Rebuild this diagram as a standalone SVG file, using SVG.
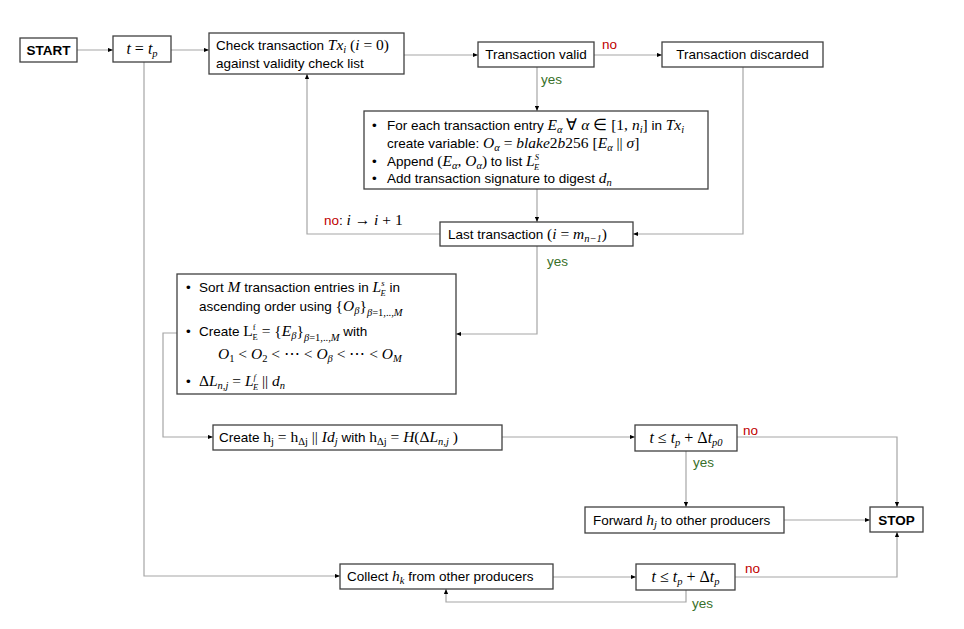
<svg xmlns="http://www.w3.org/2000/svg" width="964" height="629" viewBox="0 0 964 629">
<defs>
<marker id="ah" viewBox="0 0 6 6" refX="6" refY="3" markerWidth="5" markerHeight="5" markerUnits="userSpaceOnUse" orient="auto"><path d="M0,0.5 L6,3 L0,5.5 Z" fill="#000"/></marker>
</defs>
<style>
.box{fill:#fff;stroke:#404040;stroke-width:1.3}
.c{fill:none;stroke:#a6a6a6;stroke-width:1.2;marker-end:url(#ah)}
text{font-family:"Liberation Sans",Arial,sans-serif;font-size:13.5px;fill:#000}
.b{font-weight:bold}
.m{font-family:"Liberation Serif","Times New Roman",serif;font-size:15.5px}
.i{font-style:italic}
.s{font-size:10.5px}
.ss{font-size:8.5px}
.big{font-size:16px}
.no{fill:#c00000}
.yes{fill:#38702a}
</style>
<rect width="964" height="629" fill="#fff"/>

<g id="connectors">
<path class="c" d="M77,50 H113"/>
<path class="c" d="M171,50 H209"/>
<path class="c" d="M404,55 H478"/>
<path class="c" d="M594,55 H662"/>
<path class="c" d="M537,67 V111"/>
<path class="c" d="M537,189 V222"/>
<path class="c" d="M743,67 V234 H633"/>
<path class="c" d="M440,234 H307 V74"/>
<path class="c" d="M537,246 V334 H456"/>
<path class="c" d="M177,333 H163 V437 H213"/>
<path class="c" d="M502,437 H635"/>
<path class="c" d="M686,451 V507"/>
<path class="c" d="M737,437 H897 V507"/>
<path class="c" d="M784,520 H870"/>
<path class="c" d="M144,62 V576 H340"/>
<path class="c" d="M553,577 H636"/>
<path class="c" d="M735,577 H897 V532"/>
<path class="c" d="M686,590 V602 H446 V589"/>
<text x="602" y="49" class="no">no</text>
<text x="541" y="84" class="yes">yes</text>
<text x="324" y="225"><tspan class="no">no</tspan>: <tspan class="m"><tspan class="i">i</tspan> → <tspan class="i">i</tspan> + 1</tspan></text>
<text x="547" y="266" class="yes">yes</text>
<text x="743" y="435" class="no">no</text>
<text x="693" y="467" class="yes">yes</text>
<text x="745" y="573" class="no">no</text>
<text x="692" y="608" class="yes">yes</text>
</g>

<g id="start">
<rect class="box" x="20" y="38" width="57" height="24"/>
<text x="48.5" y="55" text-anchor="middle" class="b">START</text>
</g>

<g id="set-time">
<rect class="box" x="113" y="36" width="58" height="26"/>
<text x="142" y="54" text-anchor="middle" class="m big"><tspan class="i">t</tspan> = <tspan class="i">t</tspan><tspan class="i s" dy="3">p</tspan></text>
</g>

<g id="check">
<rect class="box" x="209" y="33" width="195" height="41"/>
<text x="216" y="50">Check transaction <tspan class="m i">Tx</tspan><tspan class="m i s" dy="3">i</tspan><tspan class="m" dy="-3"> (<tspan class="i">i</tspan> = 0)</tspan></text>
<text x="216" y="68">against validity check list</text>
</g>

<g id="valid">
<rect class="box" x="478" y="42" width="116" height="25"/>
<text x="536" y="59" text-anchor="middle">Transaction valid</text>
</g>

<g id="discarded">
<rect class="box" x="662" y="42" width="161" height="25"/>
<text x="742.5" y="59" text-anchor="middle">Transaction discarded</text>
</g>

<g id="process-entries">
<rect class="box" x="364" y="111" width="344" height="78"/>
<text x="372" y="130">•</text>
<text x="372" y="166">•</text>
<text x="372" y="183">•</text>
<text x="387" y="130">For each transaction entry <tspan class="m i">E</tspan><tspan class="m i s" dy="3">α</tspan><tspan class="m" dy="-3"> ∀ <tspan class="i">α</tspan> ∈ [1, <tspan class="i">n</tspan></tspan><tspan class="m i s" dy="3">i</tspan><tspan class="m" dy="-3">]</tspan> in <tspan class="m i">Tx</tspan><tspan class="m i s" dy="3">i</tspan></text>
<text x="387" y="148">create variable: <tspan class="m i">O</tspan><tspan class="m i s" dy="3">α</tspan><tspan class="m" dy="-3"> = <tspan class="i">blake</tspan>2<tspan class="i">b</tspan>256 [<tspan class="i">E</tspan></tspan><tspan class="m i s" dy="3">α</tspan><tspan class="m" dy="-3"> || <tspan class="i">σ</tspan>]</tspan></text>
<text x="387" y="166">Append <tspan class="m">(<tspan class="i">E</tspan></tspan><tspan class="m i s" dy="3">α</tspan><tspan class="m" dy="-3">, <tspan class="i">O</tspan></tspan><tspan class="m i s" dy="3">α</tspan><tspan class="m" dy="-3">)</tspan> to list <tspan class="m i">L</tspan><tspan class="m i ss" dy="-6">S</tspan><tspan class="m i ss" dx="-5" dy="10">E</tspan></text>
<text x="387" y="183">Add transaction signature to digest <tspan class="m i">d</tspan><tspan class="m i s" dy="3">n</tspan></text>
</g>

<g id="last-transaction">
<rect class="box" x="440" y="222" width="193" height="24"/>
<text x="448" y="239">Last transaction <tspan class="m">(<tspan class="i">i</tspan> = <tspan class="i">m</tspan></tspan><tspan class="m i s" dy="3">n−1</tspan><tspan class="m" dy="-3">)</tspan></text>
</g>

<g id="sort">
<rect class="box" x="177" y="274" width="279" height="120"/>
<text x="186" y="292">•</text>
<text x="186" y="336">•</text>
<text x="186" y="386">•</text>
<text x="199" y="292">Sort <tspan class="m i">M</tspan> transaction entries in <tspan class="m i">L</tspan><tspan class="m i ss" dy="-6">s</tspan><tspan class="m i ss" dx="-4" dy="10">E</tspan><tspan dy="-4"> in</tspan></text>
<text x="199" y="311">ascending order using <tspan class="m">{<tspan class="i">O</tspan></tspan><tspan class="m i s" dy="3">β</tspan><tspan class="m" dy="-3">}</tspan><tspan class="m i s" dy="5">β</tspan><tspan class="m s" dy="0">=1,..,</tspan><tspan class="m i s">M</tspan></text>
<text x="199" y="336">Create <tspan class="m">L</tspan><tspan class="m ss" dy="-6">f</tspan><tspan class="m ss" dx="-3" dy="10">E</tspan><tspan class="m" dy="-4"> = {<tspan class="i">E</tspan></tspan><tspan class="m i s" dy="3">β</tspan><tspan class="m" dy="-3">}</tspan><tspan class="m i s" dy="5">β</tspan><tspan class="m s">=1,..,</tspan><tspan class="m i s">M</tspan><tspan dy="-5"> with</tspan></text>
<text x="218" y="359" class="m"><tspan class="i">O</tspan><tspan class="s" dy="3">1</tspan><tspan dy="-3"> &lt; <tspan class="i">O</tspan></tspan><tspan class="s" dy="3">2</tspan><tspan dy="-3"> &lt; ⋯ &lt; <tspan class="i">O</tspan></tspan><tspan class="i s" dy="3">β</tspan><tspan dy="-3"> &lt; ⋯ &lt; <tspan class="i">O</tspan></tspan><tspan class="i s" dy="3">M</tspan></text>
<text x="199" y="386" class="m">Δ<tspan class="i">L</tspan><tspan class="i s" dy="3">n,j</tspan><tspan dy="-3">  =  <tspan class="i">L</tspan></tspan><tspan class="i ss" dy="-6">f</tspan><tspan class="i ss" dx="-3" dy="10">E</tspan><tspan dy="-4"> || <tspan class="i">d</tspan></tspan><tspan class="i s" dy="3">n</tspan></text>
</g>

<g id="create-hash">
<rect class="box" x="213" y="425" width="289" height="25"/>
<text x="219" y="442">Create <tspan class="m">h</tspan><tspan class="m s" dy="3">j</tspan><tspan class="m" dy="-3"> = h</tspan><tspan class="m s" dy="3">Δj</tspan><tspan class="m" dy="-3"> || <tspan class="i">Id</tspan></tspan><tspan class="m i s" dy="3">j</tspan><tspan dy="-3"> with </tspan><tspan class="m">h</tspan><tspan class="m s" dy="3">Δj</tspan><tspan class="m" dy="-3"> = <tspan class="i">H</tspan>(Δ<tspan class="i">L</tspan></tspan><tspan class="m i s" dy="3">n,j</tspan><tspan class="m" dy="-3"> )</tspan></text>
</g>

<g id="time-check-p0">
<rect class="box" x="635" y="425" width="102" height="26"/>
<text x="686" y="443" text-anchor="middle" class="m big"><tspan class="i">t</tspan> ≤ <tspan class="i">t</tspan><tspan class="i s" dy="3">p</tspan><tspan dy="-3"> + Δ<tspan class="i">t</tspan></tspan><tspan class="i s" dy="3">p0</tspan></text>
</g>

<g id="forward">
<rect class="box" x="585" y="507" width="199" height="26"/>
<text x="593" y="525">Forward <tspan class="m i">h</tspan><tspan class="m i s" dy="3">j</tspan><tspan dy="-3"> to other producers</tspan></text>
</g>

<g id="stop">
<rect class="box" x="870" y="507" width="53" height="25"/>
<text x="896.5" y="524.5" text-anchor="middle" class="b">STOP</text>
</g>

<g id="collect">
<rect class="box" x="340" y="564" width="213" height="25"/>
<text x="347" y="581">Collect <tspan class="m i">h</tspan><tspan class="m i s" dy="3">k</tspan><tspan dy="-3"> from other producers</tspan></text>
</g>

<g id="time-check-p">
<rect class="box" x="636" y="564" width="99" height="26"/>
<text x="685.5" y="582" text-anchor="middle" class="m big"><tspan class="i">t</tspan> ≤ <tspan class="i">t</tspan><tspan class="i s" dy="3">p</tspan><tspan dy="-3"> + Δ<tspan class="i">t</tspan></tspan><tspan class="i s" dy="3">p</tspan></text>
</g>
</svg>
